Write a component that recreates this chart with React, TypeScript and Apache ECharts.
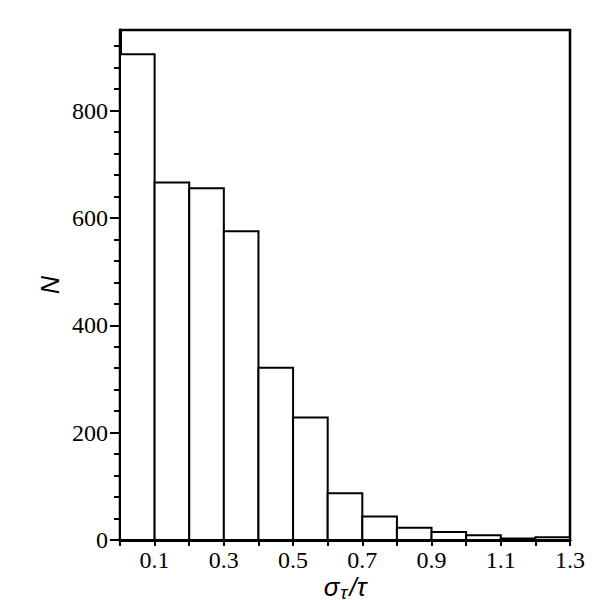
import React, { useEffect, useRef } from "react";
import * as echarts from "echarts";

const binStarts = [0, 0.1, 0.2, 0.3, 0.4, 0.5, 0.6, 0.7, 0.8, 0.9, 1.0, 1.1, 1.2];
const binWidth = 0.1;
const counts = [905, 666, 655, 575, 321, 228, 87, 44, 23, 15, 9, 3, 5];
const yMajorTicks = [0, 200, 400, 600, 800];
const yMinorTicks = [40, 80, 120, 160, 240, 280, 320, 360, 440, 480, 520, 560, 640, 680, 720, 760, 840, 880, 920];
const xTickLabels = ["0.1", "0.3", "0.5", "0.7", "0.9", "1.1", "1.3"];

export default function App() {
  const ref = useRef<HTMLDivElement>(null);
  useEffect(() => {
    if (!ref.current) return;
    const chart = echarts.init(ref.current, null, { renderer: "svg" });
    const data = binStarts.map((s, i) => [s, s + binWidth, counts[i]]);
    const serif = "Liberation Serif";
    chart.setOption({
      animation: false,
      backgroundColor: "#fff",
      grid: {
        left: 120,
        right: 30,
        top: 30,
        bottom: 60,
        show: true,
        borderColor: "#000",
        borderWidth: 2.5,
        backgroundColor: "transparent",
        containLabel: false,
        outerBoundsMode: "none",
      },
      xAxis: {
        type: "value",
        min: 0,
        max: 1.3,
        interval: 0.1,
        name: "{a|σ}{b|τ}{a|/τ}",
        nameLocation: "middle",
        nameGap: 36,
        nameMoveOverlap: false,
        nameTextStyle: {
          rich: {
            a: { fontFamily: "Liberation Sans", fontStyle: "italic", fontSize: 26, lineHeight: 26, color: "#000", verticalAlign: "bottom", padding: [0, 0, 2, 0] },
            b: { fontFamily: "Liberation Sans", fontStyle: "italic", fontSize: 19, lineHeight: 19, color: "#000", verticalAlign: "bottom", padding: [0, 2, 0, 1] },
          },
        },
        axisLine: { show: true, onZero: false, lineStyle: { color: "#000", width: 3 } },
        axisTick: { show: true, inside: false, length: 6, lineStyle: { color: "#000", width: 2 } },
        axisLabel: {
          color: "#000",
          fontFamily: serif,
          fontSize: 24,
          margin: 8,
          formatter: (v: number) => {
            const s = v.toFixed(1);
            return xTickLabels.includes(s) ? s : "";
          },
        },
        splitLine: { show: false },
      },
      yAxis: [
        {
          type: "value",
          min: 0,
          max: 950,
          name: "N",
          nameLocation: "middle",
          nameGap: 58,
          nameRotate: 90,
          nameMoveOverlap: false,
          nameTextStyle: { fontFamily: "Liberation Sans", fontStyle: "italic", fontSize: 25, color: "#000" },
          axisLine: { show: true, onZero: false, lineStyle: { color: "#000", width: 3 } },
          axisTick: { show: true, inside: false, length: 10, customValues: yMajorTicks, lineStyle: { color: "#000", width: 2 } },
          axisLabel: { color: "#000", fontFamily: serif, fontSize: 24, margin: 12, customValues: yMajorTicks },
          splitLine: { show: false },
        },
        {
          type: "value",
          min: 0,
          max: 950,
          position: "left",
          axisLine: { show: false },
          axisTick: { show: true, inside: false, length: 6, customValues: yMinorTicks, lineStyle: { color: "#000", width: 2 } },
          axisLabel: { show: false },
          splitLine: { show: false },
        },
      ],
      series: [
        {
          type: "custom",
          xAxisIndex: 0,
          yAxisIndex: 0,
          data,
          encode: { x: [0, 1], y: 2 },
          renderItem: (params: any, api: any) => {
            const p0 = api.coord([api.value(0), api.value(2)]);
            const p1 = api.coord([api.value(1), 0]);
            return {
              type: "rect",
              shape: { x: p0[0], y: p0[1], width: p1[0] - p0[0], height: p1[1] - p0[1] },
              style: { fill: "#fff", stroke: "#000", lineWidth: 2 },
            };
          },
        },
      ],
    });
    return () => chart.dispose();
  }, []);
  return <div ref={ref} style={{ width: 600, height: 600, position: "absolute", left: 0, top: 0 }} />;
}
